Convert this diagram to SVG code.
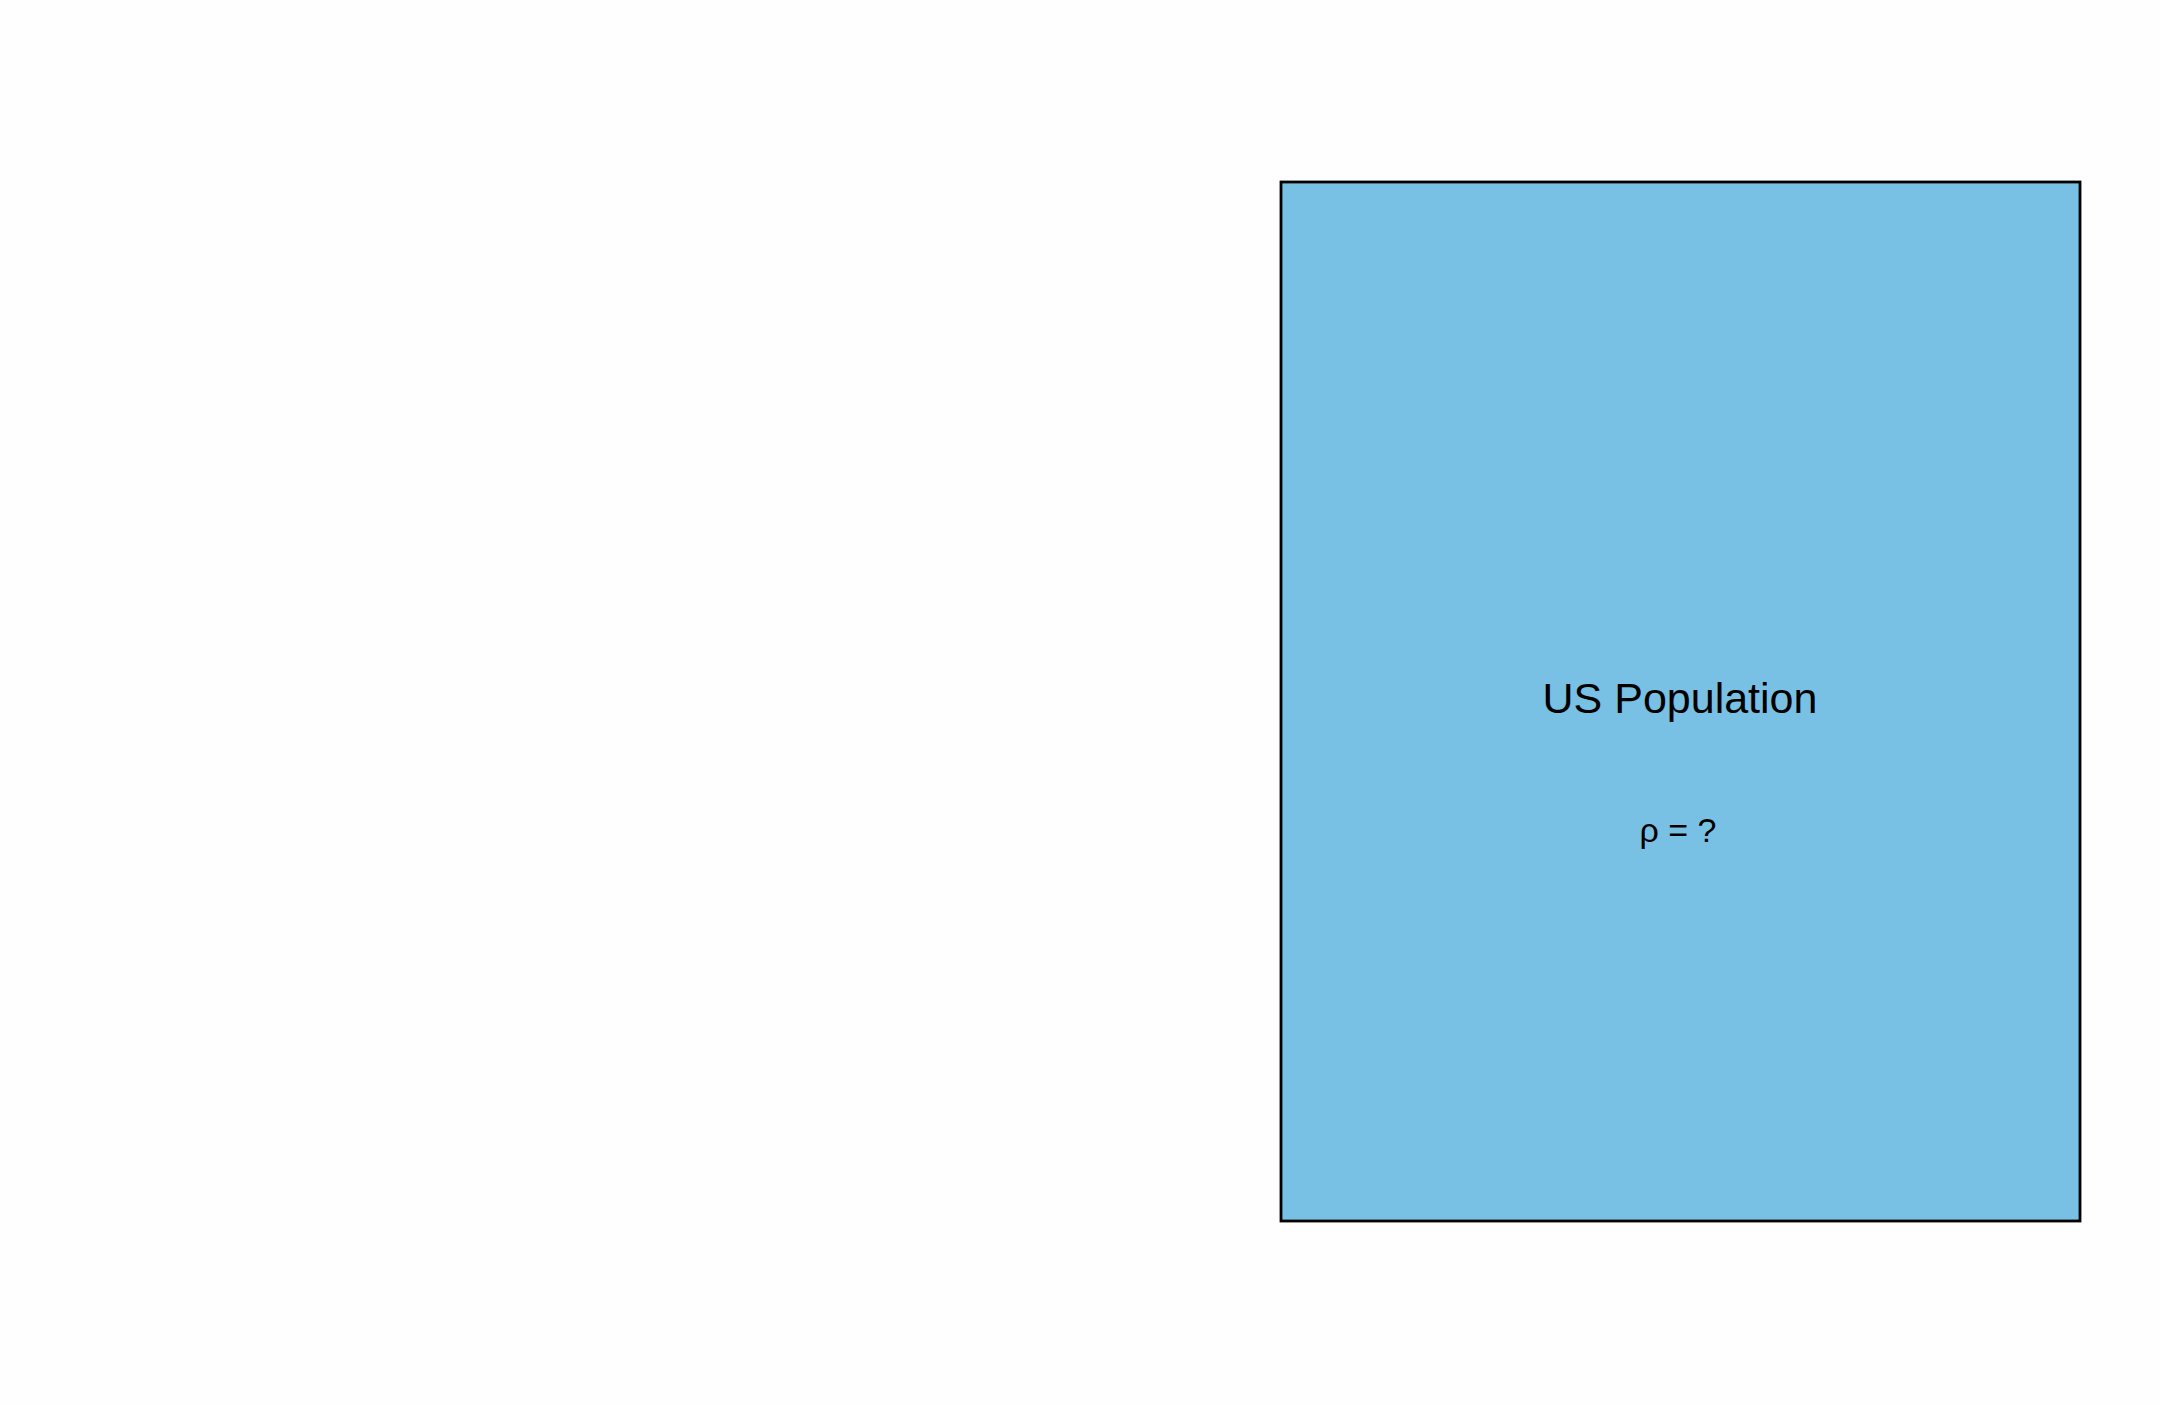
<svg xmlns="http://www.w3.org/2000/svg" width="2160" height="1404" viewBox="0 0 2160 1404">
<style>
.t{font-family:"Liberation Sans",Arial,sans-serif;fill:#000;text-anchor:middle}
</style>
<rect width="2160" height="1404" fill="#fefefe"/>
<g id="us-population">
<rect x="1281" y="182" width="799" height="1039" fill="#78c1e5" stroke="#000" stroke-width="2.8"/>
<text class="t" x="1680" y="713" font-size="43">US Population</text>
<text class="t" x="1678" y="842" font-size="34">ρ = ?</text>
</g>
<g id="connectors"></g>
</svg>
